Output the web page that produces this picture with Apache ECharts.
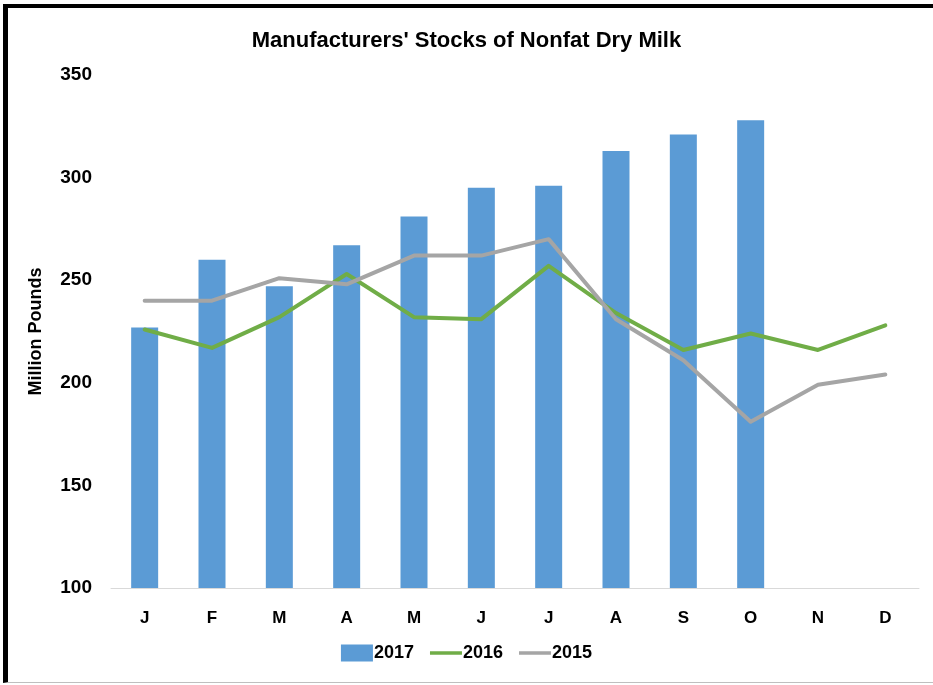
<!DOCTYPE html>
<html>
<head>
<meta charset="utf-8">
<script src="https://cdn.jsdelivr.net/npm/echarts@6/dist/echarts.min.js"></script>
<style>
  html, body { margin: 0; padding: 0; background: #fff; }
  #wrap { position: relative; width: 933px; height: 685px; overflow: hidden; }
  #frame {
    position: absolute; left: 3px; top: 4px; width: 940px; height: 679px;
    border-top: 4px solid #000; border-left: 5px solid #000;
    border-bottom: 1px solid #bfbfbf; box-sizing: border-box;
  }
  #chart { position: absolute; left: 0; top: 0; width: 933px; height: 685px; }
</style>
</head>
<body>
<div id="wrap">
  <div id="frame"></div>
  <div id="chart"></div>
</div>
<script>
// month initials on the x axis
let months = ['J', 'F', 'M', 'A', 'M', 'J', 'J', 'A', 'S', 'O', 'N', 'D'];
// million pounds
let stocks2017 = [227, 260, 247, 267, 281, 295, 296, 313, 321, 328, null, null];
let stocks2016 = [226, 217, 232, 253, 232, 231, 257, 234, 216, 224, 216, 228];
let stocks2015 = [240, 240, 251, 248, 262, 262, 270, 231, 211, 181, 199, 204];

let fontFam = '"Liberation Sans", Arial, sans-serif';
// flat bar used as legend icon for the two line series
let lineIcon = 'path://M0,0h36v4h-36z';

let myChart = echarts.init(document.getElementById('chart'));
let option = {
    backgroundColor: 'transparent',
    animation: false,
    title: {
        text: "Manufacturers' Stocks of Nonfat Dry Milk",
        left: 'center',
        top: 25,
        textStyle: { color: '#000', fontSize: 22, fontWeight: 'bold', fontFamily: fontFam }
    },
    legend: {
        bottom: 18,
        left: 'center',
        itemGap: 16,
        itemWidth: 32,
        itemHeight: 17,
        textStyle: { color: '#000', fontSize: 18, fontWeight: 'bold', fontFamily: fontFam, padding: [0, 0, 0, -4] },
        data: [
            { name: '2017', icon: 'rect' },
            { name: '2016', icon: lineIcon },
            { name: '2015', icon: lineIcon }
        ]
    },
    grid: { left: 111, right: 14, top: 75, bottom: 97 },
    xAxis: {
        type: 'category',
        data: months,
        axisLine: { lineStyle: { color: '#d9d9d9', width: 1 } },
        axisTick: { show: false },
        axisLabel: { color: '#000', fontSize: 17, fontWeight: 'bold', fontFamily: fontFam, margin: 22 }
    },
    yAxis: {
        type: 'value',
        min: 100,
        max: 350,
        interval: 50,
        name: 'Million Pounds',
        nameLocation: 'middle',
        nameGap: 66,
        nameTextStyle: { color: '#000', fontSize: 18, fontWeight: 'bold', fontFamily: fontFam },
        axisLine: { show: false },
        axisTick: { show: false },
        splitLine: { show: false },
        axisLabel: { color: '#000', fontSize: 19, fontWeight: 'bold', fontFamily: fontFam, margin: 19 }
    },
    series: [
        {
            name: '2017',
            type: 'bar',
            data: stocks2017,
            barWidth: 27,
            itemStyle: { color: '#5b9bd5' }
        },
        {
            name: '2016',
            type: 'line',
            data: stocks2016,
            symbol: 'none',
            lineStyle: { color: '#70ad47', width: 4, cap: 'round', join: 'round' },
            itemStyle: { color: '#70ad47' }
        },
        {
            name: '2015',
            type: 'line',
            data: stocks2015,
            symbol: 'none',
            lineStyle: { color: '#a5a5a5', width: 4, cap: 'round', join: 'round' },
            itemStyle: { color: '#a5a5a5' }
        }
    ]
};
myChart.setOption(option);
</script>
</body>
</html>
